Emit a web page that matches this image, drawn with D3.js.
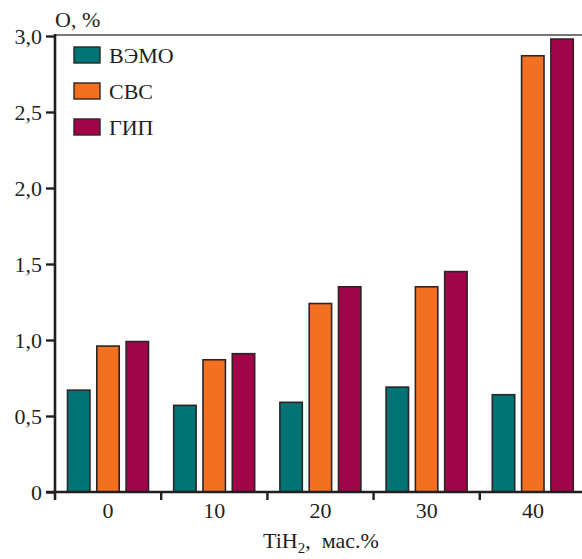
<!DOCTYPE html>
<html>
<head>
<meta charset="utf-8">
<script src="https://cdn.jsdelivr.net/npm/d3@7"></script>
<style>
  html, body { margin: 0; padding: 0; background: #fff; }
  svg { display: block; }
  svg text { font-family: 'Liberation Serif', 'DejaVu Serif', serif !important; fill: #231f20; }
</style>
</head>
<body>
<svg id="chart" width="582" height="559"></svg>
<script>
const categories = ["0", "10", "20", "30", "40"];
const seriesNames = ["ВЭМО", "СВС", "ГИП"];
const seriesColors = ["#007474", "#f37021", "#a10549"];
const vemo = [0.67, 0.57, 0.59, 0.69, 0.64];
const svs = [0.96, 0.87, 1.24, 1.35, 2.87];
const gip = [0.99, 0.91, 1.35, 1.45, 2.98];
const yTicks = [0, 0.5, 1.0, 1.5, 2.0, 2.5, 3.0];
const yTickLabels = ["0", "0,5", "1,0", "1,5", "2,0", "2,5", "3,0"];

const seriesValues = [vemo, svs, gip];
const svg = d3.select("#chart");
const pLeft = 55, pRight = 586, pTop = 36, pBottom = 492;
const serif = "'Liberation Serif', 'DejaVu Serif', serif";
const fs = "22px";

const x = d3.scaleBand().domain(categories).range([pLeft, pRight]).paddingInner(0).paddingOuter(0);
const xInner = d3.scaleBand().domain(seriesNames).range([11.7, 94.3]).paddingInner(0.18).paddingOuter(0);
const y = d3.scaleLinear().domain([0, 3]).range([pBottom, pTop]);

// top frame line
svg.append("line").attr("x1", pLeft).attr("x2", 582).attr("y1", y(3) - 1).attr("y2", y(3) - 1)
  .attr("stroke", "#777").attr("stroke-width", 2);

// bars
const groups = svg.append("g").selectAll("g").data(categories).join("g")
  .attr("transform", d => `translate(${x(d)},0)`);
groups.selectAll("rect")
  .data((c, i) => seriesNames.map((s, j) => ({ s, j, v: seriesValues[j][i] })))
  .join("rect")
  .attr("x", d => xInner(d.s) + 0.8)
  .attr("width", xInner.bandwidth() - 1.6)
  .attr("y", d => y(d.v))
  .attr("height", d => y(0) - y(d.v))
  .attr("fill", d => seriesColors[d.j])
  .attr("stroke", "#2b2526")
  .attr("stroke-width", 1.6);

// y axis
const yAxis = d3.axisLeft(y).tickValues(yTicks).tickFormat((d, i) => yTickLabels[i]).tickSize(9).tickPadding(4);
const gy = svg.append("g").attr("transform", `translate(${pLeft},0)`).call(yAxis)
  .attr("font-family", serif).attr("font-size", 22);
gy.select(".domain").remove();
gy.selectAll(".tick line").attr("stroke", "#231f20").attr("stroke-width", 2.4);
gy.selectAll(".tick text").style("font-size", fs).attr("fill", "#231f20");
svg.append("line").attr("x1", pLeft).attr("x2", pLeft).attr("y1", y(3) - 2).attr("y2", pBottom + 8)
  .attr("stroke", "#231f20").attr("stroke-width", 2.6);

// x axis
const gx = svg.append("g").attr("transform", `translate(0,${pBottom})`)
  .call(d3.axisBottom(x).tickSize(0).tickPadding(10))
  .attr("font-family", serif).attr("font-size", 22);
gx.select(".domain").remove();
gx.selectAll(".tick text").style("font-size", fs).attr("fill", "#231f20");
svg.append("line").attr("x1", pLeft - 9).attr("x2", 582).attr("y1", pBottom).attr("y2", pBottom)
  .attr("stroke", "#231f20").attr("stroke-width", 2.6);
svg.append("g").selectAll("line").data(categories.slice(1)).join("line")
  .attr("x1", d => x(d)).attr("x2", d => x(d))
  .attr("y1", pBottom).attr("y2", pBottom + 8)
  .attr("stroke", "#231f20").attr("stroke-width", 2.4);

// axis titles
svg.append("text").attr("x", 55).attr("y", 27).style("font-size", fs).text("O, %");
const xt = svg.append("text").attr("x", 263).attr("y", 548).style("font-size", fs);
xt.append("tspan").text("TiH");
xt.append("tspan").style("font-size", "15px").attr("dy", 5).text("2");
xt.append("tspan").attr("dy", -5).text(",\u00a0 мас.%");

// legend
const lg = svg.append("g").selectAll("g").data(seriesNames).join("g")
  .attr("transform", (d, i) => `translate(74,${47 + i * 36})`);
lg.append("rect").attr("width", 26).attr("height", 16)
  .attr("fill", (d, i) => seriesColors[i]).attr("stroke", "#2b2526").attr("stroke-width", 1.4);
lg.append("text").attr("x", 35).attr("y", 16).style("font-size", fs).text(d => d);
</script>
</body>
</html>
